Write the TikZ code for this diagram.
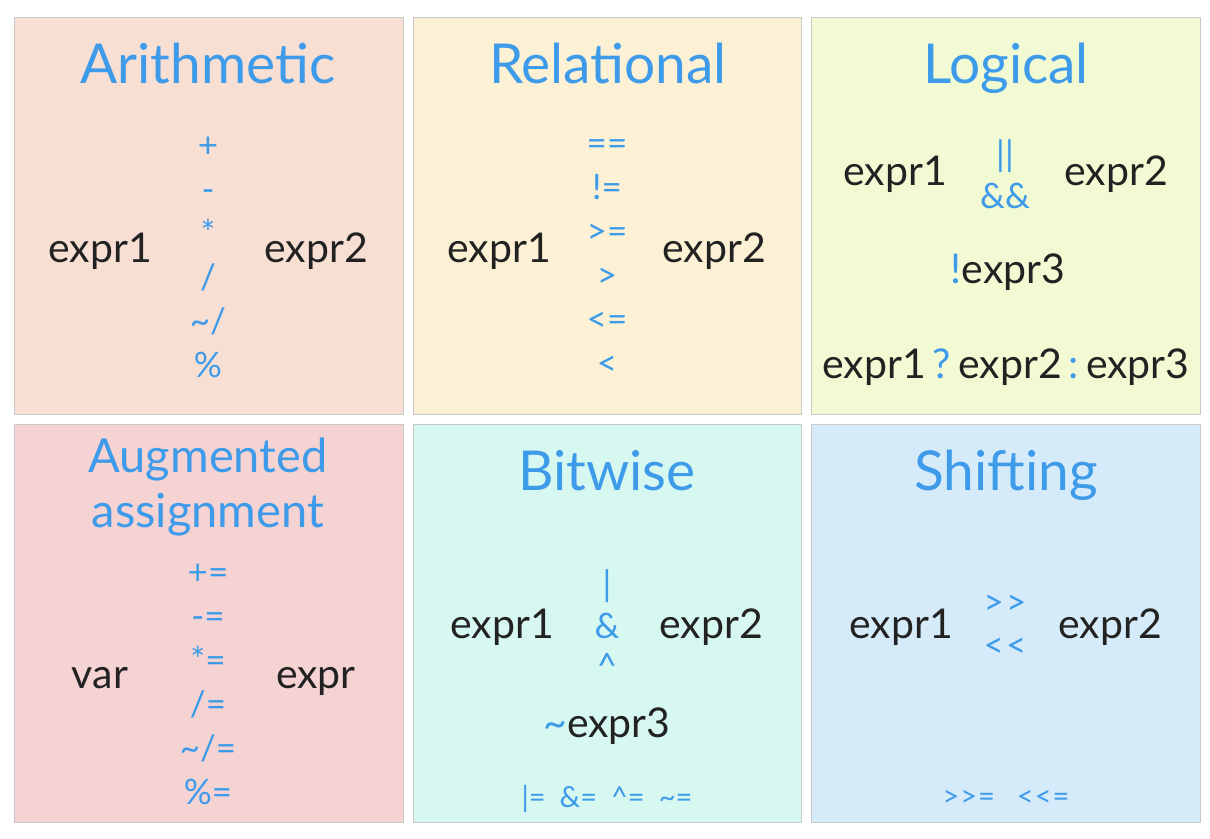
\documentclass[tikz,border=0pt]{standalone}
\usepackage{fontspec}
\setmainfont{Lato}
\newfontfamily\plainlato{Lato}
\definecolor{opblue}{HTML}{3E9BEA}
\definecolor{ink}{HTML}{222222}
\definecolor{bordergrey}{HTML}{C9C9C9}
\definecolor{fillA}{HTML}{F8DFD4}
\definecolor{fillB}{HTML}{FCF1D4}
\definecolor{fillC}{HTML}{F2FAD4}
\definecolor{fillD}{HTML}{F5D3D3}
\definecolor{fillE}{HTML}{D7F8F0}
\definecolor{fillF}{HTML}{D6EBF9}
\tikzset{
  panel/.style={draw=bordergrey, line width=1pt},
  ttl/.style={anchor=base, inner sep=0pt, text=opblue, font=\fontsize{55}{60}\selectfont},
  ttlsmall/.style={anchor=base, inner sep=0pt, text=opblue, font=\fontsize{47}{50}\selectfont},
  ex/.style={anchor=base, inner sep=0pt, text=ink, font=\fontsize{41}{45}\selectfont},
  op/.style={anchor=base, inner sep=0pt, text=opblue, font=\plainlato\fontsize{35}{38}\selectfont},
  opsmall/.style={anchor=base, inner sep=0pt, text=opblue, font=\plainlato\fontsize{29}{32}\selectfont},
}
\begin{document}
\begin{tikzpicture}[x=1pt,y=-1pt]
\useasboundingbox (0,0) rectangle (1210,838);
\fill[white] (0,0) rectangle (1210,838);
% panels
\draw[panel, fill=fillA] (14,17) rectangle (403,414);
\draw[panel, fill=fillB] (413,17) rectangle (801,414);
\draw[panel, fill=fillC] (811,17) rectangle (1200,414);
\draw[panel, fill=fillD] (14,424) rectangle (403,822);
\draw[panel, fill=fillE] (413,424) rectangle (801,822);
\draw[panel, fill=fillF] (811,424) rectangle (1200,822);

% Arithmetic
\node[ttl] (t1) at (208,83) {Arithmetic};
\node[ex] (a1) at (100,262) {expr1};
\node[ex] (a2) at (316,262) {expr2};
\node[op] (ao1) at (208,157) {+};
\node[op] (ao2) at (208,201) {-};
\node[op] (ao3) at (208,245) {*};
\node[op] (ao4) at (208,289) {/};
\node[op] (ao5) at (208,333) {\char`\~/};
\node[op] (ao6) at (208,377) {\%};

% Relational
\node[ttl] (t2) at (608,83) {Relational};
\node[ex] (r1) at (499,262) {expr1};
\node[ex] (r2) at (714,262) {expr2};
\node[op] (ro1) at (607,155) {==};
\node[op] (ro2) at (607,199) {!=};
\node[op] (ro3) at (607,243) {>=};
\node[op] (ro4) at (607,287) {>};
\node[op] (ro5) at (607,331) {<=};
\node[op] (ro6) at (607,375) {<};

% Logical
\node[ttl] (t3) at (1006,83) {Logical};
\node[ex] (l1) at (895,185) {expr1};
\node[ex] (l2) at (1116,185) {expr2};
\node[op] (lo1) at (1005,166) {||};
\node[op] (lo2) at (1005,208) {\&\&};
\node[ex] (l3) at (1008,283) {\textcolor{opblue}{!}expr3};
\node[ex] (l4) at (1006,378) {expr1\hspace{7pt}\textcolor{opblue}{?}\hspace{7pt}expr2\hspace{7pt}\textcolor{opblue}{:}\hspace{7pt}expr3};

% Augmented assignment
\node[ttlsmall] (t4a) at (208,472) {Augmented};
\node[ttlsmall] (t4b) at (208,527) {assignment};
\node[ex] (v1) at (100,688) {var};
\node[ex] (v2) at (316,688) {expr};
\node[op] (vo1) at (208,584) {+=};
\node[op] (vo2) at (208,628) {-=};
\node[op] (vo3) at (208,672) {*=};
\node[op] (vo4) at (208,716) {/=};
\node[op] (vo5) at (208,760) {\char`\~/=};
\node[op] (vo6) at (208,804) {\%=};

% Bitwise
\node[ttl] (t5) at (607,490) {Bitwise};
\node[ex] (b1) at (502,638) {expr1};
\node[ex] (b2) at (711,638) {expr2};
\node[op] (bo1) at (607,596) {|};
\node[op] (bo2) at (607,638) {\&};
\node[op] (bo3) at (607,678) {\char`\^};
\node[ex] (b3) at (607,737) {\textcolor{opblue}{\char`\~}expr3};
\node[opsmall] (b4) at (607,807) {|=\hspace{14pt}\&=\hspace{14pt}\char`\^=\hspace{14pt}\char`\~=};

% Shifting
\node[ttl] (t6) at (1006,490) {Shifting};
\node[ex] (s1) at (901,638) {expr1};
\node[ex] (s2) at (1110,638) {expr2};
\node[op] (so1) at (1005,614) {>\hspace{2pt}>};
\node[op] (so2) at (1005,657) {<\hspace{2pt}<};
\node[opsmall] (s3) at (1006,806) {>\hspace{1pt}>\hspace{1pt}=\hspace{22pt}<\hspace{1pt}<\hspace{1pt}=};
\end{tikzpicture}
\end{document}
